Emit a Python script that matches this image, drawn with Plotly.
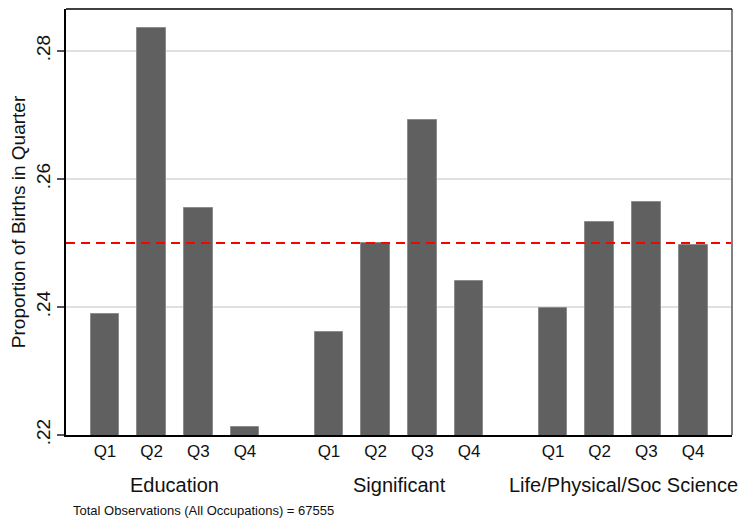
import plotly.graph_objects as go

groups = ["Education", "Significant", "Life/Physical/Soc Science"]
quarters = ["Q1", "Q2", "Q3", "Q4"]
education = [0.2389, 0.2835, 0.2555, 0.2213]
significant = [0.2361, 0.2500, 0.2692, 0.2441]
life_sci = [0.2399, 0.2533, 0.2564, 0.2497]
reference_line = 0.25
y_ticks = [0.22, 0.24, 0.26, 0.28]
y_tick_labels = [".22", ".24", ".26", ".28"]
note = "Total Observations (All Occupations) = 67555"
y_title = "Proportion of Births in Quarter"

series = [education, significant, life_sci]
group_step = 4.8
xs, ys, labels = [], [], []
for gi, vals in enumerate(series):
    for qi, v in enumerate(vals):
        xs.append(gi * group_step + qi)
        ys.append(v)
        labels.append(quarters[qi])

FONT = "Liberation Sans, Arial, Helvetica, sans-serif"

fig = go.Figure()
fig.add_trace(go.Bar(
    x=xs, y=ys, width=0.62,
    marker=dict(color="#606060", line=dict(color="#8c8c8c", width=1)),
    showlegend=False, hoverinfo="y",
))

x_min, x_max = -0.835, 2 * group_step + 3 + 0.835

fig.add_shape(type="line", xref="x", yref="y",
              x0=x_min, x1=x_max, y0=reference_line, y1=reference_line,
              line=dict(color="#ff0000", width=2, dash="9px,6px"), layer="above")

# right border (gray)
fig.add_shape(type="line", xref="paper", yref="paper", x0=1, x1=1, y0=0, y1=1,
              line=dict(color="#808080", width=2))
fig.add_shape(type="line", xref="paper", yref="paper", x0=0, x1=1, y0=1, y1=1,
              line=dict(color="black", width=1.5))

for gi, g in enumerate(groups):
    fig.add_annotation(x=gi * group_step + 1.5, y=0, xref="x", yref="paper",
                       text=g, showarrow=False, yanchor="top", yshift=-37,
                       font=dict(family=FONT, size=20, color="#111111"))

fig.add_annotation(x=0, y=0, xref="paper", yref="paper", text=note,
                   showarrow=False, xanchor="left", yanchor="top",
                   xshift=5, yshift=-66,
                   font=dict(family=FONT, size=13, color="#111111"))

# page body has an 8px default margin; figure sized to fit the window
fig.update_layout(
    width=739, height=517,
    margin=dict(l=58, r=15, t=1, b=90),
    paper_bgcolor="white", plot_bgcolor="white",
    font=dict(family=FONT, color="#111111"),
    bargap=0,
    xaxis=dict(range=[x_min, x_max], tickvals=xs, ticktext=labels,
               showgrid=False, zeroline=False, ticks="",
               showline=True, linecolor="black", linewidth=1.5,
               tickfont=dict(size=17, family=FONT, color="#111111")),
    yaxis=dict(range=[0.22, 0.28654], tickvals=y_ticks, ticktext=y_tick_labels,
               tickangle=-90, ticks="outside", ticklen=7, tickcolor="#555555",
               tickwidth=1.5,
               showgrid=True, gridcolor="#e0e0e0", gridwidth=1.5,
               zeroline=False, showline=True, linecolor="black", linewidth=1.5,
               tickfont=dict(size=19, family=FONT, color="#111111"),
               title=dict(text=y_title, font=dict(size=19, family=FONT, color="#111111"),
                          standoff=4)),
)

fig.write_html("out.html")
